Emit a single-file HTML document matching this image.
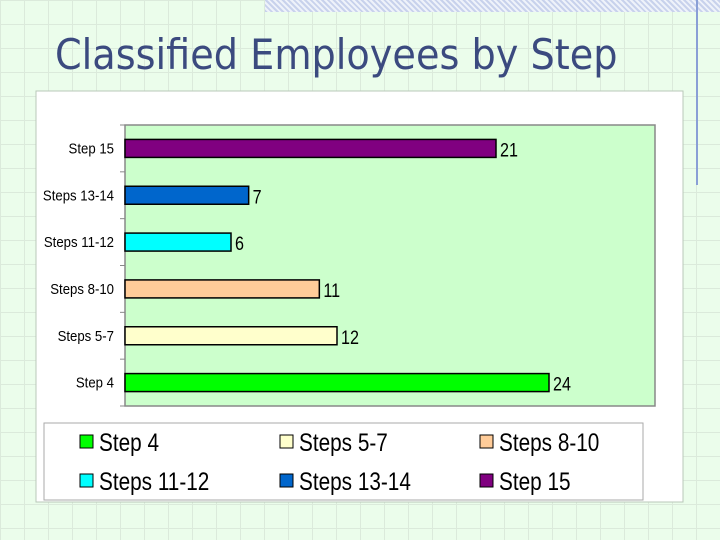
<!DOCTYPE html>
<html><head><meta charset="utf-8"><style>
body{margin:0;width:720px;height:540px;overflow:hidden;font-family:"Liberation Sans",sans-serif;}
#bg{position:absolute;left:0;top:0;width:720px;height:540px;background-color:#ebfdeb;
background-image:linear-gradient(#dbeadb 1px,transparent 1px),linear-gradient(90deg,#dbeadb 1px,transparent 1px);background-size:24px 24px;}
</style></head><body>
<div id="bg"></div>
<div style="position:absolute;left:265px;top:0;width:455px;height:12px;background:repeating-linear-gradient(45deg,#c8d2ec 0 2px,#eef2fa 2px 4px)"></div>
<div style="position:absolute;left:696px;top:0;width:2px;height:185px;background:#8a9fd6"></div>
<div style="position:absolute;left:55px;top:30px;font-family:'DejaVu Sans',sans-serif;font-size:42px;color:#3b4a7f;transform:scaleX(0.91);transform-origin:0 0;white-space:nowrap">Classified Employees by Step</div>
<svg id="chart" width="720" height="540" style="position:absolute;left:0;top:0"></svg>
<script>
const categories=["Step 15","Steps 13-14","Steps 11-12","Steps 8-10","Steps 5-7","Step 4"];
const values=[21,7,6,11,12,24];
const colors=["#800080","#0066cc","#00ffff","#ffcc99","#ffffcc","#00ff00"];
const legendLabels=["Step 4","Steps 5-7","Steps 8-10","Steps 11-12","Steps 13-14","Step 15"];
const legendColors=["#00ff00","#ffffcc","#ffcc99","#00ffff","#0066cc","#800080"];
const xMax=30;
const svg=document.getElementById('chart');
const NS='http://www.w3.org/2000/svg';
function mk(t,a,p){const e=document.createElementNS(NS,t);for(const k in a)e.setAttribute(k,a[k]);(p||svg).appendChild(e);return e;}
function txt(x,y,s,size,anchor,sx){const g=mk('g',{transform:'translate('+x+','+y+') scale('+sx+',1)'});const t=mk('text',{x:0,y:0,'font-size':size,'text-anchor':anchor,fill:'#000'},g);t.textContent=s;return t;}
const px0=125,px1=655,py0=125,py1=406;
const xS=v=>px0+(v/xMax)*(px1-px0);
const band=(py1-py0)/categories.length;
const yC=i=>py0+band*(i+0.5);
let e=mk('rect',{x:36,y:91,width:647,height:411,fill:'#fff',stroke:'#b8c8b8'});


e=mk('rect',{x:px0,y:py0,width:px1-px0,height:py1-py0,fill:'#ccffcc',stroke:'#888','stroke-width':1.5});


for(let i=0;i<=categories.length;i++){const t=mk('line',{x1:px0-5,x2:px0,y1:py0+band*i,y2:py0+band*i,stroke:'#888'});

}
categories.forEach((c,i)=>{
 const y=yC(i);
 const l=txt(114,y+5,c,15,'end',0.88);
 
 
 const b=mk('rect',{x:px0,y:y-9,width:xS(values[i])-px0,height:18,fill:colors[i],stroke:'#000','stroke-width':1.5});
 
 
 const v=txt(xS(values[i])+4,y+8,String(values[i]),19,'start',0.85);
 
 
});
e=mk('rect',{x:44,y:423,width:599,height:77,fill:'#fff',stroke:'#aaa'});


legendLabels.forEach((t,i)=>{
 const cx=80+200*(i%3), cy=442+39*Math.floor(i/3);
 const m=mk('rect',{x:cx,y:cy-7,width:13,height:13,fill:legendColors[i],stroke:'#000','stroke-width':1});
 
 
 const tx=txt(cx+19,cy+9,t,25,'start',0.83);
 
 
});
</script>
</body></html>
